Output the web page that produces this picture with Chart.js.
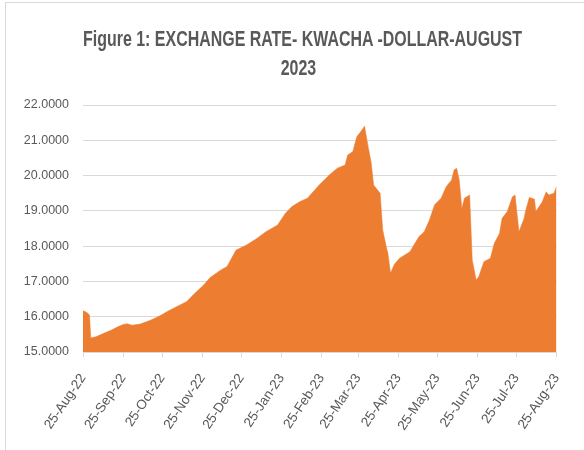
<!DOCTYPE html>
<html>
<head>
<meta charset="utf-8">
<script src="https://cdn.jsdelivr.net/npm/chart.js@4.4.0/dist/chart.umd.min.js"></script>
<style>
    html, body { margin: 0; padding: 0; background: #fff; }
    #wrap { position: relative; width: 584px; height: 450px; overflow: hidden; }
    #frame { position: absolute; left: 5px; top: 2px; width: 600px; height: 460px; border-left: 1px solid #d9d9d9; border-top: 1px solid #d9d9d9; }
    #title { position: absolute; left: 0; width: 596px; top: 24px; text-align: center;
        font-family: 'Liberation Sans', sans-serif; font-weight: bold;
        font-size: 22px; line-height: 29px; color: #595959; white-space: nowrap; }
    #title span { display: inline-block; transform-origin: 50% 50%; }
    #cv { position: absolute; left: 0; top: 0; }
</style>
</head>
<body>
<div id="wrap">
    <div id="frame"></div>
    <canvas id="cv" width="584" height="450"></canvas>
    <div id="title"><span id="t1">Figure 1: EXCHANGE RATE- KWACHA -DOLLAR-AUGUST</span><br><span id="t2">2023</span></div>
</div>
<script>
// days counted from 25-Aug-2022
var startDate = new Date(2022, 7, 25);
var days = [0, 3, 5, 6, 10, 16, 22, 26, 31, 34, 38, 44, 52, 59, 65, 72, 80, 85, 93, 98,
    106, 111, 118, 126, 134, 141, 150, 156, 161, 167, 173, 182, 190, 196, 202, 204, 208, 211, 214, 217,
    220, 222, 224, 229, 231, 234, 235, 237, 240, 244, 248, 252, 255, 259, 263, 267, 271, 276, 280, 284,
    286, 288, 290, 292, 294, 298, 300, 303, 305, 309, 314, 317, 321, 323, 327, 331, 333, 336, 340, 341,
    344, 348, 349, 354, 357, 359, 363, 365];
var rates = [16.17, 16.12, 16.05, 15.40, 15.43, 15.53, 15.62, 15.70, 15.78, 15.80, 15.76, 15.79, 15.90, 16.02, 16.15, 16.28, 16.43, 16.62, 16.90, 17.11,
    17.32, 17.42, 17.89, 18.03, 18.22, 18.41, 18.60, 18.93, 19.12, 19.26, 19.36, 19.73, 20.02, 20.21, 20.30, 20.58, 20.68, 21.10, 21.24, 21.40,
    20.77, 20.39, 19.73, 19.50, 18.46, 17.94, 17.80, 17.23, 17.49, 17.66, 17.75, 17.84, 18.03, 18.27, 18.41, 18.74, 19.17, 19.36, 19.69, 19.87,
    20.16, 20.21, 19.87, 19.07, 19.36, 19.45, 17.61, 17.04, 17.13, 17.56, 17.66, 18.08, 18.36, 18.79, 18.98, 19.40, 19.45, 18.41, 18.79, 18.98,
    19.38, 19.33, 18.98, 19.26, 19.54, 19.45, 19.50, 19.69];
var tickDays = [0, 31, 61, 92, 122, 153, 184, 212, 243, 273, 304, 334, 365];
var yMin = 15, yMax = 22, yStep = 1;

var monthNames = ["Jan", "Feb", "Mar", "Apr", "May", "Jun", "Jul", "Aug", "Sep", "Oct", "Nov", "Dec"];
function dayLabel(d) {
    var dt = new Date(startDate.getTime());
    dt.setDate(dt.getDate() + d);
    return dt.getDate() + "-" + monthNames[dt.getMonth()] + "-" + String(dt.getFullYear()).slice(2);
}

// squeeze the title to the narrow width of the original
var t1 = document.getElementById('t1'), t2 = document.getElementById('t2');
var sx = 439 / t1.getBoundingClientRect().width;
t1.style.transform = 'scaleX(' + sx + ')';
t2.style.transform = 'scaleX(' + sx + ')';

var points = days.map(function (d, i) { return { x: d, y: rates[i] }; });
var yFont = { family: "'Liberation Sans', sans-serif", size: 12.5 };
var xFont = { family: "'Liberation Sans', sans-serif", size: 13.5 };

const ctx = document.getElementById('cv').getContext('2d');
const chart = new Chart(ctx, {
    type: 'line',
    data: {
        datasets: [{
            label: 'Kwacha/Dollar',
            data: points,
            fill: 'start',
            backgroundColor: '#ED7D31',
            borderColor: '#ED7D31',
            borderWidth: 0.5,
            pointRadius: 0,
            tension: 0
        }]
    },
    options: {
        responsive: false,
        animation: false,
        layout: { padding: { top: 105, right: 26, left: 0, bottom: 0 } },
        plugins: {
            legend: { display: false },
            tooltip: { enabled: false }
        },
        scales: {
            x: {
                type: 'linear',
                min: 0,
                max: 365,
                afterBuildTicks: function (scale) {
                    scale.ticks = tickDays.map(function (v) { return { value: v }; });
                },
                afterFit: function (scale) { scale.height = 98; },
                grid: { drawOnChartArea: false, drawTicks: true, tickLength: 5, color: '#d9d9d9' },
                border: { display: true, color: '#d9d9d9' },
                ticks: {
                    autoSkip: false,
                    maxRotation: 56,
                    minRotation: 56,
                    padding: 14,
                    color: '#595959',
                    font: xFont,
                    callback: function (v) { return dayLabel(v); }
                }
            },
            y: {
                min: yMin,
                max: yMax,
                afterFit: function (scale) { scale.width = 83; },
                grid: { color: '#d9d9d9', drawTicks: false, lineWidth: 1 },
                border: { display: false },
                ticks: {
                    stepSize: yStep,
                    padding: 14,
                    color: '#595959',
                    font: yFont,
                    callback: function (v) { return v.toFixed(4); }
                }
            }
        }
    }
});
</script>
</body>
</html>
